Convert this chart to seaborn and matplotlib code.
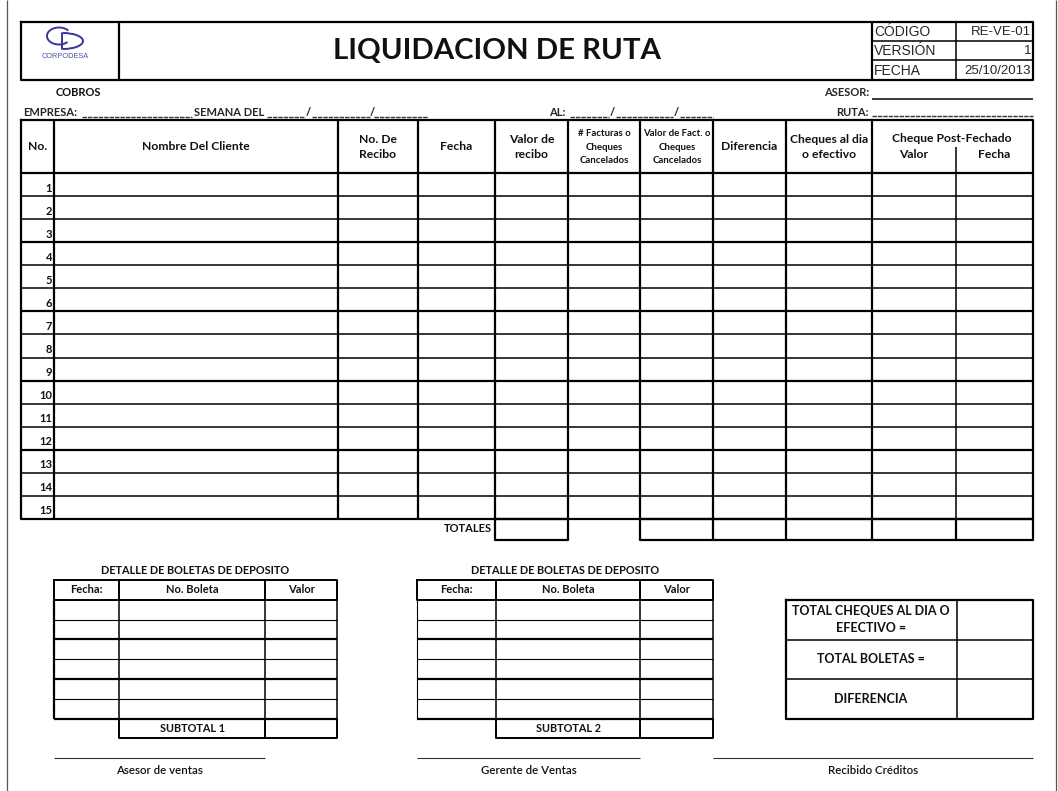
import matplotlib
matplotlib.use("Agg")
import matplotlib.pyplot as plt
from matplotlib.patches import Arc
import seaborn as sns

# form content
title = "LIQUIDACION DE RUTA"
doc_labels = ["CÓDIGO", "VERSIÓN", "FECHA"]
doc_values = ["RE-VE-01", "1", "25/10/2013"]
main_headers = ["No.", "Nombre Del Cliente", "No. De\nRecibo", "Fecha", "Valor de\nrecibo",
                "# Facturas o\nCheques\nCancelados", "Valor de Fact. o\nCheques\nCancelados",
                "Diferencia", "Cheques al dia\no efectivo"]
post_header = "Cheque Post-Fechado"
post_sub = ["Valor", "Fecha"]
row_numbers = list(range(1, 16))
deposit_headers = ["Fecha:", "No. Boleta", "Valor"]
deposit_rows = 6
subtotals = ["SUBTOTAL 1", "SUBTOTAL 2"]
summary_labels = ["TOTAL CHEQUES AL DIA O\nEFECTIVO =", "TOTAL BOLETAS =", "DIFERENCIA"]
signatures = ["Asesor de ventas", "Gerente de Ventas", "Recibido Créditos"]

# layout (pixels of the page)
W, H = 1058, 791
cols = [21, 54, 338, 418, 495, 568, 640, 713, 786, 872, 956, 1033]
head_top, head_bot = 120, 173
row_h = (519 - head_top - 53) / 15
dep_x = [[54, 119, 265, 337], [417, 496, 640, 713]]
dep_top, dep_row = 580, 19.8

sns.set_theme(style="white")
FONT = ["Lato", "DejaVu Sans"]
plt.rcParams["font.family"] = FONT

fig = plt.figure(figsize=(W / 100, H / 100), dpi=100)
ax = fig.add_axes([0, 0, 1, 1])
ax.set_xlim(0, W)
ax.set_ylim(H, 0)
ax.axis("off")

K = "black"
THICK, MID, THIN = 1.6, 1.1, 0.8
INK = "#111111"


def box(x0, y0, x1, y1, lw=THICK):
    ax.plot([x0, x1, x1, x0, x0], [y0, y0, y1, y1, y0], color=K, lw=lw,
            solid_capstyle="projecting")


def txt(x, y, s, size=8.5, ha="center", weight="bold", color=INK, ls=1.4):
    ax.text(x, y, s, fontsize=size, ha=ha, va="center", fontweight=weight,
            linespacing=ls, color=color)


def blank(x0, x1, y=117):
    ax.hlines(y, x0, x1, color="#333333", lw=1.0, linestyles=(0, (3.2, 0.7)))


# page edges
ax.vlines([7, 1056], 0, H, color="#555555", lw=0.9)

# header block
box(21, 22, 1033, 80)
ax.vlines([119, 872], 22, 80, color=K, lw=THICK)
ax.vlines(956, 22, 80, color=K, lw=MID)
ax.hlines([41, 60], 872, 1033, color=K, lw=MID)
txt(497, 51, title, size=21.2)
for i, (lab, val) in enumerate(zip(doc_labels, doc_values)):
    yc = 32 + i * 19.3
    ax.text(874, yc, lab, fontsize=10, ha="left", va="center", family="Liberation Sans")
    ax.text(1031, yc, val, fontsize=9.5, ha="right", va="center", family="Liberation Sans")

# logo
navy = "#35379a"
ax.add_patch(Arc((59, 36), 24, 17, theta1=35, theta2=330, color=navy, lw=1.4))
ax.add_patch(Arc((63, 41), 40, 16, theta1=-90, theta2=90, color=navy, lw=1.4))
ax.plot([62, 62], [33, 49], color=navy, lw=1.4)
ax.text(65, 57, "CORPODESA", fontsize=5.3, ha="center", va="center", color="#4a4fa8",
        family="Liberation Sans")

# above the table
txt(78, 92, "COBROS", size=8)
ax.text(23, 112, "EMPRESA:", fontsize=8, fontweight="bold", ha="left", va="center")
ax.text(194, 112, "SEMANA DEL", fontsize=8, fontweight="bold", ha="left", va="center")
ax.text(549, 112, "AL:", fontsize=8, fontweight="bold", ha="left", va="center")
for xs in [(82, 192), (267, 305), (312, 370), (374, 428), (570, 609), (616, 673), (680, 713)]:
    blank(*xs)
for xslash in [308.5, 372, 612.5, 676.5]:
    txt(xslash, 112, "/", size=8)
ax.text(869, 92, "ASESOR:", fontsize=8, fontweight="bold", ha="right", va="center")
ax.text(869, 112, "RUTA:", fontsize=8, fontweight="bold", ha="right", va="center")
ax.hlines(99, 872, 1033, color=K, lw=MID)
blank(872, 1033, 116)

# main table
table_bot = head_bot + row_h * 15
box(cols[0], head_top, cols[-1], table_bot)
ax.vlines([c for c in cols[1:-1] if c != 956], head_top, table_bot, color=K, lw=THICK)
ax.vlines(956, 147, table_bot, color=K, lw=MID)
ax.hlines(head_bot, cols[0], cols[-1], color=K, lw=THICK)
for i in range(1, 15):
    y = head_bot + i * row_h
    ax.hlines(y, cols[0], cols[-1], color=K, lw=MID if i % 3 else THICK)

for i, h in enumerate(main_headers):
    xc = (cols[i] + cols[i + 1]) / 2
    if len(h.split("\n")) == 3:
        txt(xc + 0.5, 147, h, size=6.9, ls=1.6)
    else:
        txt(xc, 147, h, size=8.7, ls=1.5)
txt(952, 138, post_header, size=8.7)
txt(914, 155, post_sub[0], size=8.7)
txt(994, 155, post_sub[1], size=8.7)

for n in row_numbers:
    yb = head_bot + n * row_h
    txt(52, yb - 8, str(n), size=8, ha="right")

# totals row
tot_bot = table_bot + 21
txt(492, table_bot + 10, "TOTALES", size=8, ha="right")
box(495, table_bot, 568, tot_bot)
box(640, table_bot, 1033, tot_bot)
ax.vlines(cols[7:-1], table_bot, tot_bot, color=K, lw=THICK)

# deposit detail tables
for t, xs in enumerate(dep_x):
    txt((xs[0] + xs[-1]) / 2, 570, "DETALLE DE BOLETAS DE DEPOSITO", size=7.8)
    box(xs[0], dep_top, xs[-1], dep_top + dep_row, lw=MID + 0.3)
    ax.vlines(xs[1:-1], dep_top, dep_top + dep_row, color=K, lw=MID + 0.3)
    for j, h in enumerate(deposit_headers):
        txt((xs[j] + xs[j + 1]) / 2, dep_top + dep_row / 2, h, size=8)
    data_bot = dep_top + dep_row * (deposit_rows + 1)
    ax.vlines(xs, dep_top + dep_row, data_bot, color=K,
              lw=[THICK if t == 0 else THIN, MID, MID, MID])
    for r in range(1, deposit_rows + 1):
        y = dep_top + dep_row * (r + 1)
        ax.hlines(y, xs[0], xs[-1], color=K, lw=THIN if r % 2 else THICK)
    box(xs[1], data_bot, xs[-1], data_bot + dep_row, lw=MID + 0.3)
    ax.vlines(xs[2], data_bot, data_bot + dep_row, color=K, lw=MID + 0.3)
    txt((xs[1] + xs[2]) / 2, data_bot + dep_row / 2, subtotals[t], size=7.8)

# summary box
sum_y = [600, 639.5, 679, 718.5]
box(786, sum_y[0], 1033, sum_y[-1])
ax.vlines(957, sum_y[0], sum_y[-1], color=K, lw=MID)
ax.hlines(sum_y[1:-1], 786, 1033, color=K, lw=MID)
for k, lab in enumerate(summary_labels):
    txt(871, (sum_y[k] + sum_y[k + 1]) / 2, lab, size=9, ls=1.5)

# signature lines
sig_spans = [(54, 265), (417, 640), (713, 1033)]
for (x0, x1), s in zip(sig_spans, signatures):
    ax.hlines(758, x0, x1, color="#333333", lw=THIN)
    txt((x0 + x1) / 2, 770, s, size=8.3, weight="semibold")

fig.savefig("out.png", dpi=100)
